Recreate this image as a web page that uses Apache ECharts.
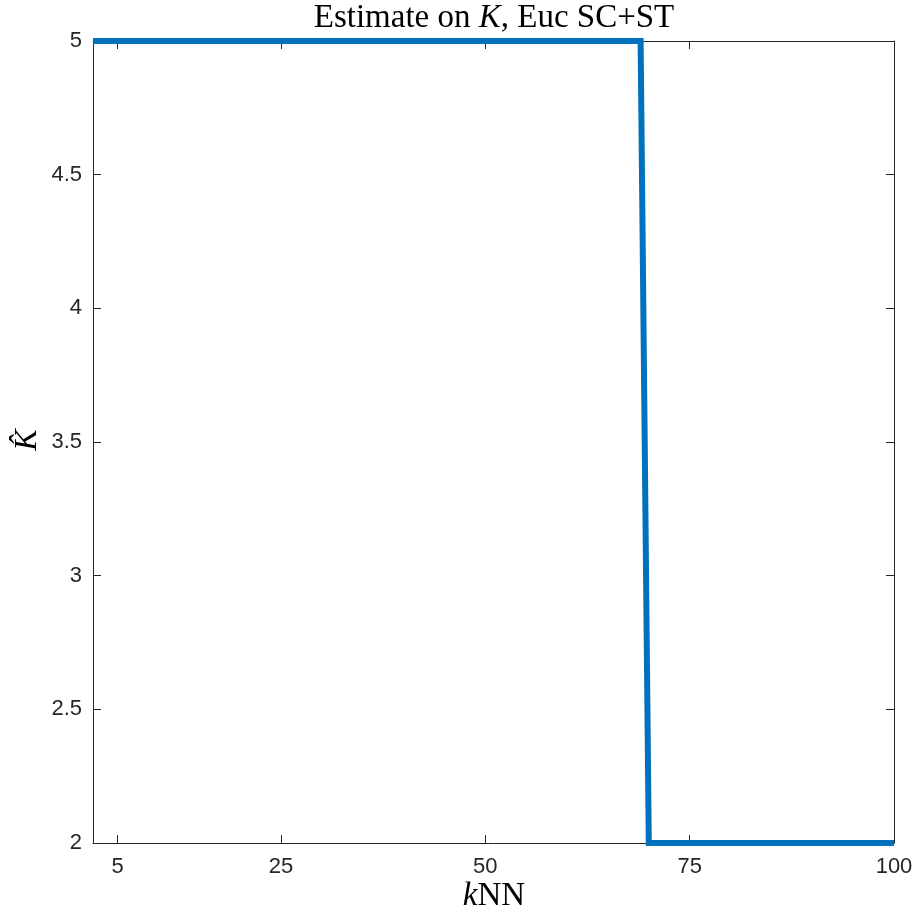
<!DOCTYPE html>
<html>
<head>
<meta charset="utf-8">
<script src="https://cdn.jsdelivr.net/npm/echarts@6/dist/echarts.min.js"></script>
<style>html,body{margin:0;padding:0;background:#fff}#c{width:913px;height:913px}</style>
</head>
<body>
<div id="c"></div>
<script>
// Data (breakpoints of the step curve)
var kNN = [2, 69, 70, 100];
var kHat = [5, 5, 2, 2];
var xTicks = [5, 25, 50, 75, 100];
var yTicks = [2, 2.5, 3, 3.5, 4, 4.5, 5];

var chart = echarts.init(document.getElementById('c'));
var axisCol = '#262626';
var serif = 'Liberation Serif, DejaVu Serif, serif';
var pts = kNN.map(function (k, i) { return [k, kHat[i]]; });

function xAx(pos, showLabel) {
  return {
    type: 'value', position: pos, min: 2, max: 100,
    axisLine: { show: true, onZero: false, lineStyle: { color: axisCol, width: 1 } },
    axisTick: { show: true, inside: true, length: 8, customValues: xTicks, lineStyle: { color: axisCol } },
    axisLabel: { show: showLabel, customValues: xTicks, color: axisCol, fontFamily: 'Liberation Sans, Arial, sans-serif', fontSize: 22, margin: 13 },
    splitLine: { show: false }
  };
}
function yAx(pos, showLabel) {
  return {
    type: 'value', position: pos, min: 2, max: 5, interval: 0.5,
    axisLine: { show: true, onZero: false, lineStyle: { color: axisCol, width: 1 } },
    axisTick: { show: true, inside: true, length: 8, customValues: yTicks, lineStyle: { color: axisCol } },
    axisLabel: { show: showLabel, customValues: yTicks, color: axisCol, fontFamily: 'Liberation Sans, Arial, sans-serif', fontSize: 22, margin: 11 },
    splitLine: { show: false }
  };
}

chart.setOption({
  backgroundColor: '#fff',
  animation: false,
  grid: { left: 93, right: 19, top: 41, bottom: 70, containLabel: false, outerBoundsMode: 'none' },
  xAxis: [xAx('bottom', true), xAx('top', false)],
  yAxis: [yAx('left', true), yAx('right', false)],
  graphic: [
    {
      type: 'text', x: 494, y: 18,
      style: { text: 'Estimate on {i|K}, Euc SC+ST', fill: '#000', font: '33px ' + serif, align: 'center', verticalAlign: 'middle',
        rich: { i: { fontStyle: 'italic', fontFamily: serif, fontSize: 33 } } }
    },
    {
      type: 'text', x: 494, y: 896,
      style: { text: '{i|k}NN', fill: '#000', font: '33px ' + serif, align: 'center', verticalAlign: 'middle',
        rich: { i: { fontStyle: 'italic', fontFamily: serif, fontSize: 33 } } }
    },
    {
      type: 'text', x: 28, y: 440, rotation: Math.PI / 2,
      style: { text: 'K\u0302', fill: '#000', font: 'italic 32px ' + serif, align: 'center', verticalAlign: 'middle' }
    }
  ],
  series: [{
    type: 'line', xAxisIndex: 0, yAxisIndex: 0,
    data: pts, showSymbol: false, symbol: 'none', clip: false,
    lineStyle: { color: '#0072BD', width: 6, cap: 'butt', join: 'miter' }
  }]
});
</script>
</body>
</html>
